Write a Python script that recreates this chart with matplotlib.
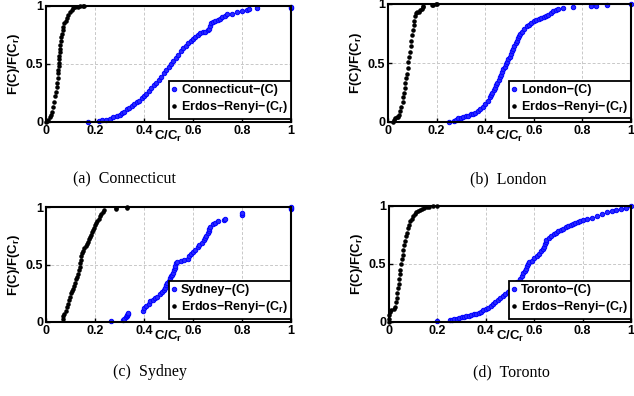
import matplotlib
matplotlib.use("Agg")
import matplotlib.pyplot as plt

plt.rcParams['font.family'] = 'Liberation Sans'
plt.rcParams['font.weight'] = 'bold'
plt.rcParams['axes.labelweight'] = 'bold'
plt.rcParams['mathtext.fontset'] = 'custom'
plt.rcParams['mathtext.rm'] = 'Liberation Sans:bold'
plt.rcParams['mathtext.bf'] = 'Liberation Sans:bold'
plt.rcParams['mathtext.it'] = 'Liberation Sans:bold'

# ---- data: (x, y) pairs, x = C/C_r, y = F(C)/F(C_r) ----
conn_x = [0.17, 0.215, 0.23, 0.245, 0.26, 0.275, 0.29, 0.30, 0.31, 0.32, 0.33, 0.34, 0.35,
          0.36, 0.37, 0.38, 0.39, 0.40, 0.41, 0.42, 0.43, 0.44, 0.45, 0.46, 0.47, 0.48,
          0.49, 0.50, 0.51, 0.52, 0.53, 0.54, 0.55, 0.56, 0.57, 0.58, 0.59, 0.60, 0.61,
          0.62, 0.63, 0.64, 0.65, 0.66, 0.665, 0.67, 0.672, 0.68, 0.69, 0.70, 0.71, 0.72,
          0.73, 0.74, 0.76, 0.78, 0.80, 0.82, 0.83, 0.86, 1.0, 1.0]
conn_y = [0.00, 0.01, 0.015, 0.02, 0.03, 0.04, 0.05, 0.06, 0.075, 0.09, 0.11, 0.125, 0.14,
          0.155, 0.17, 0.185, 0.205, 0.225, 0.245, 0.265, 0.29, 0.315, 0.34, 0.365, 0.39,
          0.42, 0.45, 0.475, 0.50, 0.53, 0.555, 0.58, 0.61, 0.635, 0.655, 0.68, 0.70,
          0.715, 0.73, 0.75, 0.765, 0.775, 0.78, 0.79, 0.80, 0.83, 0.85, 0.86, 0.87, 0.88,
          0.89, 0.905, 0.915, 0.93, 0.935, 0.945, 0.955, 0.965, 0.975, 0.98, 0.985, 0.995]
conn_er_x = [0.0, 0.005, 0.01, 0.015, 0.02, 0.025, 0.03, 0.034, 0.038, 0.041, 0.044, 0.046,
             0.048, 0.05, 0.051, 0.052, 0.053, 0.054, 0.055, 0.056, 0.057, 0.058, 0.06,
             0.062, 0.065, 0.068, 0.071, 0.075, 0.08, 0.085, 0.09, 0.097, 0.105, 0.112,
             0.12, 0.13, 0.14, 0.15, 0.155]
conn_er_y = [0.0, 0.01, 0.02, 0.04, 0.06, 0.09, 0.13, 0.17, 0.22, 0.26, 0.30, 0.34, 0.38,
             0.42, 0.45, 0.48, 0.51, 0.54, 0.57, 0.60, 0.63, 0.66, 0.70, 0.73, 0.76, 0.79,
             0.82, 0.85, 0.87, 0.90, 0.92, 0.945, 0.965, 0.98, 0.99, 0.995, 1.0, 1.0, 1.0]

lon_x = [0.25, 0.27, 0.28, 0.29, 0.30, 0.31, 0.32, 0.33, 0.34, 0.35, 0.36, 0.37, 0.38, 0.39,
         0.40, 0.41, 0.42, 0.425, 0.43, 0.435, 0.44, 0.445, 0.45, 0.455, 0.46, 0.465, 0.47,
         0.475, 0.48, 0.485, 0.49, 0.495, 0.50, 0.505, 0.51, 0.515, 0.52, 0.525, 0.53,
         0.535, 0.54, 0.545, 0.55, 0.56, 0.57, 0.58, 0.59, 0.60, 0.61, 0.62, 0.63, 0.64,
         0.65, 0.66, 0.67, 0.68, 0.69, 0.70, 0.72, 0.76, 0.835, 0.855, 0.90, 1.0]
lon_y = [0.0, 0.01, 0.02, 0.03, 0.035, 0.04, 0.05, 0.055, 0.065, 0.07, 0.08, 0.095, 0.11,
         0.13, 0.155, 0.18, 0.21, 0.23, 0.25, 0.27, 0.29, 0.31, 0.33, 0.355, 0.38, 0.40,
         0.42, 0.445, 0.47, 0.49, 0.51, 0.53, 0.555, 0.58, 0.60, 0.62, 0.645, 0.67, 0.69,
         0.71, 0.73, 0.75, 0.765, 0.79, 0.81, 0.825, 0.84, 0.855, 0.865, 0.875, 0.885,
         0.89, 0.90, 0.91, 0.925, 0.94, 0.95, 0.96, 0.965, 0.975, 0.98, 0.985, 0.99, 1.0]
lon_er_x = [0.02, 0.025, 0.03, 0.035, 0.04, 0.045, 0.05, 0.055, 0.06, 0.063, 0.066, 0.069,
            0.072, 0.075, 0.078, 0.081, 0.084, 0.087, 0.09, 0.093, 0.096, 0.099, 0.102,
            0.105, 0.108, 0.111, 0.114, 0.12, 0.126, 0.132, 0.138, 0.144, 0.146, 0.18,
            0.185, 0.196, 0.20]
lon_er_y = [0.0, 0.02, 0.03, 0.04, 0.045, 0.06, 0.09, 0.13, 0.17, 0.21, 0.25, 0.29, 0.33,
            0.37, 0.41, 0.46, 0.51, 0.55, 0.59, 0.64, 0.69, 0.74, 0.78, 0.82, 0.86, 0.90,
            0.92, 0.93, 0.935, 0.95, 0.96, 0.975, 0.98, 0.99, 0.995, 1.0, 1.0]

syd_x = [0.265, 0.315, 0.32, 0.325, 0.33, 0.33, 0.335, 0.335, 0.395, 0.40, 0.41, 0.42,
         0.425, 0.435, 0.445, 0.455, 0.465, 0.475, 0.48, 0.485, 0.49, 0.495, 0.50, 0.505,
         0.51, 0.515, 0.52, 0.522, 0.525, 0.527, 0.53, 0.535, 0.55, 0.565, 0.58, 0.585,
         0.59, 0.60, 0.61, 0.62, 0.625, 0.635, 0.645, 0.65, 0.655, 0.66, 0.665, 0.665,
         0.67, 0.68, 0.69, 0.70, 0.725, 0.73, 0.80, 0.80, 1.0, 1.0, 1.0]
syd_y = [0.01, 0.02, 0.03, 0.04, 0.05, 0.06, 0.07, 0.08, 0.10, 0.12, 0.14, 0.16, 0.18,
         0.19, 0.21, 0.22, 0.24, 0.26, 0.28, 0.30, 0.32, 0.34, 0.36, 0.38, 0.40, 0.41,
         0.43, 0.45, 0.47, 0.49, 0.51, 0.52, 0.53, 0.535, 0.55, 0.57, 0.59, 0.61, 0.63,
         0.65, 0.67, 0.69, 0.71, 0.73, 0.75, 0.77, 0.79, 0.81, 0.83, 0.85, 0.865, 0.875,
         0.89, 0.90, 0.93, 0.945, 0.98, 0.99, 1.0]
syd_er_x = [0.068, 0.07, 0.075, 0.08, 0.085, 0.09, 0.093, 0.097, 0.10, 0.105, 0.11, 0.115,
            0.12, 0.122, 0.127, 0.132, 0.135, 0.138, 0.14, 0.142, 0.144, 0.148, 0.152,
            0.157, 0.162, 0.167, 0.172, 0.177, 0.18, 0.183, 0.186, 0.19, 0.195, 0.20,
            0.205, 0.21, 0.215, 0.22, 0.225, 0.232, 0.238, 0.285, 0.285, 0.33, 0.33]
syd_er_y = [0.03, 0.05, 0.07, 0.10, 0.13, 0.16, 0.19, 0.22, 0.25, 0.27, 0.29, 0.31, 0.34,
            0.37, 0.39, 0.42, 0.45, 0.48, 0.51, 0.54, 0.57, 0.60, 0.62, 0.64, 0.66, 0.68,
            0.70, 0.72, 0.74, 0.76, 0.78, 0.80, 0.82, 0.84, 0.86, 0.88, 0.90, 0.92, 0.94,
            0.96, 0.975, 0.98, 0.99, 0.995, 1.0]

tor_x = [0.20, 0.25, 0.26, 0.27, 0.28, 0.29, 0.30, 0.31, 0.32, 0.33, 0.34, 0.35, 0.36, 0.37,
         0.38, 0.39, 0.40, 0.41, 0.42, 0.43, 0.44, 0.45, 0.46, 0.47, 0.48, 0.49, 0.50,
         0.51, 0.52, 0.53, 0.54, 0.55, 0.555, 0.56, 0.565, 0.57, 0.575, 0.58, 0.59, 0.60,
         0.61, 0.62, 0.63, 0.635, 0.64, 0.645, 0.648, 0.65, 0.66, 0.67, 0.68, 0.69, 0.70,
         0.71, 0.72, 0.73, 0.74, 0.75, 0.76, 0.77, 0.78, 0.79, 0.80, 0.82, 0.84, 0.86,
         0.88, 0.90, 0.92, 0.94, 0.96, 0.98, 1.0]
tor_y = [0.01, 0.015, 0.02, 0.025, 0.03, 0.035, 0.04, 0.045, 0.05, 0.055, 0.06, 0.065,
         0.07, 0.08, 0.09, 0.10, 0.11, 0.125, 0.14, 0.155, 0.17, 0.19, 0.205, 0.22, 0.24,
         0.26, 0.28, 0.30, 0.32, 0.345, 0.37, 0.40, 0.42, 0.44, 0.46, 0.48, 0.50, 0.515,
         0.53, 0.55, 0.57, 0.59, 0.61, 0.63, 0.65, 0.67, 0.69, 0.71, 0.725, 0.74, 0.755,
         0.77, 0.785, 0.795, 0.805, 0.815, 0.825, 0.835, 0.845, 0.855, 0.865, 0.875, 0.88,
         0.89, 0.90, 0.915, 0.93, 0.945, 0.955, 0.965, 0.975, 0.985, 1.0]
tor_er_x = [0.0, 0.0, 0.002, 0.004, 0.01, 0.02, 0.026, 0.029, 0.032, 0.035, 0.038, 0.041,
            0.043, 0.045, 0.047, 0.05, 0.053, 0.056, 0.059, 0.062, 0.065, 0.069, 0.073,
            0.078, 0.083, 0.088, 0.094, 0.10, 0.107, 0.113, 0.12, 0.128, 0.135, 0.145,
            0.155, 0.165, 0.18, 0.197]
tor_er_y = [0.0, 0.03, 0.06, 0.09, 0.10, 0.11, 0.13, 0.17, 0.21, 0.25, 0.29, 0.33, 0.37,
            0.41, 0.45, 0.50, 0.54, 0.58, 0.62, 0.66, 0.70, 0.74, 0.77, 0.81, 0.84, 0.87,
            0.89, 0.91, 0.93, 0.945, 0.955, 0.965, 0.975, 0.985, 0.99, 0.995, 1.0, 1.0]

panels = [
    ("Connecticut", conn_x, conn_y, conn_er_x, conn_er_y, "(a)  Connecticut"),
    ("London", lon_x, lon_y, lon_er_x, lon_er_y, "(b)  London"),
    ("Sydney", syd_x, syd_y, syd_er_x, syd_er_y, "(c)  Sydney"),
    ("Toronto", tor_x, tor_y, tor_er_x, tor_er_y, "(d)  Toronto"),
]

W, H = 634, 396
# axes boxes in pixels: left, top, right, bottom
boxes = [(46, 6, 291, 122), (388, 4, 631, 122), (46, 207, 291, 322), (389, 206, 631, 322)]
captions_at = [(124, 179), (508, 179), (150, 372), (511, 372)]

fig = plt.figure(figsize=(W / 100, H / 100), dpi=100)

for (city, cx, cy, ex, ey, cap), (l, t, r, b), (px, py) in zip(panels, boxes, captions_at):
    ax = fig.add_axes([l / W, 1 - b / H, (r - l) / W, (b - t) / H])
    ax.plot(cx, cy, 'o', color='#0000ff', mfc='#2a2aff', ms=3.2, mew=0.7, ls='none',
            label=city + '\u2212(C)', clip_on=False)
    ax.plot(ex, ey, '.', color='black', ms=4.5, ls='none',
            label='Erdos\u2212Renyi\u2212(C$_\\mathbf{r}$)', clip_on=False)
    ax.set_xlim(0, 1)
    ax.set_ylim(0, 1)
    ax.set_xticks([0, 0.2, 0.4, 0.6, 0.8, 1])
    ax.set_xticklabels(['0', '0.2', '0.4', '0.6', '0.8', '1'])
    ax.set_yticks([0, 0.5, 1])
    ax.set_yticklabels(['0', '0.5', '1'])
    ax.tick_params(direction='in', length=3, width=1, labelsize=9, pad=2)
    ax.grid(True, color='#c8c8c8', ls='--', lw=0.7, dashes=(3, 2))
    for s in ax.spines.values():
        s.set_linewidth(1.5)
    ax.set_xlabel('C/C$_\\mathbf{r}$', fontsize=9.5, labelpad=-6)
    ax.set_ylabel('F(C)/F(C$_\\mathbf{r}$)', fontsize=9.5, labelpad=3)
    leg = ax.legend(loc='lower right', bbox_to_anchor=(1.0, 0.03), borderaxespad=0,
                    fontsize=9, handlelength=0.4, handletextpad=0.35, borderpad=0.25,
                    labelspacing=0.25, fancybox=False, framealpha=1, markerscale=1.0)
    leg.get_frame().set_edgecolor('black')
    leg.get_frame().set_linewidth(1.3)
    fig.text(px / W, 1 - py / H, cap, ha='center', va='center', fontsize=11.5,
             family='Liberation Serif', weight='normal')

fig.savefig('out.png', dpi=100)
